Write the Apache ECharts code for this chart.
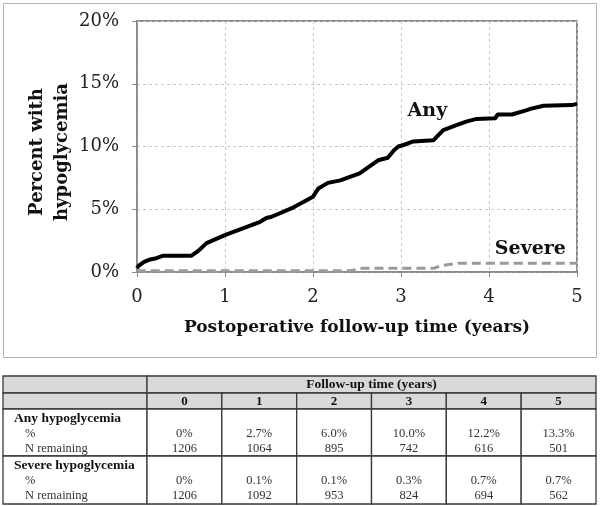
<!DOCTYPE html>
<html>
<head>
<meta charset="utf-8">
<script src="https://cdn.jsdelivr.net/npm/echarts@6/dist/echarts.min.js"></script>
<style>
html,body{margin:0;padding:0;background:#fff;}
#chart{width:600px;height:506px;}
</style>
</head>
<body>
<div id="chart"></div>
<script>
// ---- Curve data ----
const anyTime = [0, 0.02, 0.08, 0.15, 0.22, 0.3, 0.62, 0.7, 0.79, 0.92, 1.02, 1.21, 1.4, 1.47, 1.53, 1.78, 2.0, 2.06, 2.17, 2.31, 2.53, 2.61, 2.74, 2.85, 2.92, 2.97, 3.02, 3.14, 3.37, 3.48, 3.63, 3.75, 3.86, 4.07, 4.1, 4.26, 4.28, 4.43, 4.47, 4.62, 4.94, 5.0];
const anyPctCurve = [0.3, 0.5, 0.8, 1.0, 1.1, 1.3, 1.3, 1.7, 2.3, 2.7, 3.0, 3.5, 4.0, 4.3, 4.4, 5.15, 6.0, 6.65, 7.1, 7.3, 7.85, 8.25, 8.9, 9.1, 9.7, 10.0, 10.1, 10.4, 10.5, 11.3, 11.7, 12.0, 12.2, 12.25, 12.55, 12.55, 12.7, 12.9, 13.0, 13.25, 13.3, 13.4];
const sevTime = [0, 0.03, 2.42, 2.5, 2.56, 3.38, 3.45, 3.55, 3.65, 5.0];
const sevPctCurve = [0, 0.1, 0.1, 0.2, 0.3, 0.3, 0.5, 0.6, 0.7, 0.7];

// ---- Axis ticks ----
const xTicks = [0, 1, 2, 3, 4, 5];
const yTicks = [0, 5, 10, 15, 20];

// ---- Curve labels (anchors in data units) ----
const curveLabels = ['Any', 'Severe'];
const curveLabelAnchors = [[3.3, 12.8], [4.47, 1.8]];

// ---- Table data ----
const tableYears = [0, 1, 2, 3, 4, 5];
const anyPctTable = ['0%', '2.7%', '6.0%', '10.0%', '12.2%', '13.3%'];
const anyNTable = [1206, 1064, 895, 742, 616, 501];
const sevPctTable = ['0%', '0.1%', '0.1%', '0.3%', '0.7%', '0.7%'];
const sevNTable = [1206, 1092, 953, 824, 694, 562];
const tableTitle = 'Follow-up time (years)';
const rowTitles = ['Any hypoglycemia', 'Severe hypoglycemia'];
const subLabels = ['%', 'N remaining'];

const chartFont = 'DejaVu Serif';
const tableFont = 'Liberation Serif';

const chart = echarts.init(document.getElementById('chart'), null, {renderer: 'canvas'});

// ---- Build table graphics ----
const tbl = {left: 3, right: 596, firstColRight: 147, rows: [376, 393, 409, 456, 504]};
const colW = (tbl.right - tbl.firstColRight) / tableYears.length;
const gfx = [];
const gray = '#d9d9d9';
const stroke = '#3a3a3a';
function rect(x, y, w, h, fill) {
  gfx.push({type: 'rect', shape: {x: x, y: y, width: w, height: h},
    style: {fill: fill, stroke: stroke, lineWidth: 1.3}, silent: true});
}
function text(t, x, y, opts) {
  gfx.push({type: 'text', x: x, y: y, silent: true,
    style: Object.assign({text: t, fontFamily: tableFont, fontSize: 12.5, fill: '#111',
      textAlign: 'center', textVerticalAlign: 'middle'}, opts || {})});
}
// chart outer frame
gfx.push({type: 'rect', shape: {x: 3.5, y: 3.5, width: 593, height: 354},
  style: {fill: 'none', stroke: '#b5b5b5', lineWidth: 1}, silent: true, z: -1});
// header rows
const r = tbl.rows;
rect(tbl.left, r[0], tbl.firstColRight - tbl.left, r[1] - r[0], gray);
rect(tbl.firstColRight, r[0], tbl.right - tbl.firstColRight, r[1] - r[0], gray);
text(tableTitle, (tbl.firstColRight + tbl.right) / 2, (r[0] + r[1]) / 2 + 0.5, {fontWeight: 'bold', fontSize: 13.5});
rect(tbl.left, r[1], tbl.firstColRight - tbl.left, r[2] - r[1], gray);
tableYears.forEach(function (yr, i) {
  const x = tbl.firstColRight + i * colW;
  rect(x, r[1], colW, r[2] - r[1], gray);
  text(String(yr), x + colW / 2, (r[1] + r[2]) / 2 + 0.5, {fontWeight: 'bold', fontSize: 13});
});
// body rows
const bodyPct = [anyPctTable, sevPctTable];
const bodyN = [anyNTable, sevNTable];
[0, 1].forEach(function (k) {
  const top = r[2 + k], bot = r[3 + k];
  const h = bot - top;
  rect(tbl.left, top, tbl.firstColRight - tbl.left, h, '#fff');
  const yTitle = top + 9.5, yPct = top + 25, yN = top + 40;
  text(rowTitles[k], 14, yTitle, {fontWeight: 'bold', fontSize: 13.5, textAlign: 'left'});
  text(subLabels[0], 25, yPct, {textAlign: 'left', fill: '#333'});
  text(subLabels[1], 25, yN, {textAlign: 'left', fill: '#333'});
  tableYears.forEach(function (yr, i) {
    const x = tbl.firstColRight + i * colW;
    rect(x, top, colW, h, '#fff');
    text(bodyPct[k][i], x + colW / 2, yPct, {fill: '#333'});
    text(String(bodyN[k][i]), x + colW / 2, yN, {fill: '#333'});
  });
});
// y-axis title
gfx.push({type: 'text', x: 50, y: 152, rotation: Math.PI / 2, silent: true,
  style: {text: 'Percent with\nhypoglycemia', fontFamily: chartFont, fontWeight: 'bold', fontSize: 18,
    lineHeight: 25, fill: '#111', textAlign: 'center', textVerticalAlign: 'middle'}});

const labelStyle = {show: true, position: 'inside', fontFamily: chartFont, fontWeight: 'bold',
  fontSize: 19, color: '#111'};

const option = {
  animation: false,
  backgroundColor: '#fff',
  grid: {left: 137, right: 23, top: 21, bottom: 234, show: true, borderColor: '#666', borderWidth: 1.5},
  xAxis: {
    type: 'value', min: xTicks[0], max: xTicks[xTicks.length - 1], interval: 1,
    name: 'Postoperative follow-up time (years)', nameLocation: 'middle', nameGap: 47,
    nameTextStyle: {fontFamily: chartFont, fontWeight: 'bold', fontSize: 17, color: '#111'},
    axisLine: {show: true, lineStyle: {color: '#8a8a8a', width: 1.5}},
    axisTick: {show: true, length: 5, lineStyle: {color: '#8a8a8a'}},
    axisLabel: {fontFamily: chartFont, fontSize: 18, color: '#222', margin: 16},
    splitLine: {show: true, lineStyle: {color: '#c8c8c8', type: [3, 3], width: 1}}
  },
  yAxis: {
    type: 'value', min: yTicks[0], max: yTicks[yTicks.length - 1], interval: 5,
    axisLine: {show: true, lineStyle: {color: '#8a8a8a', width: 1.5}},
    axisTick: {show: true, length: 5, lineStyle: {color: '#8a8a8a'}},
    axisLabel: {fontFamily: chartFont, fontSize: 18, color: '#222', margin: 18, formatter: '{value}%'},
    splitLine: {show: true, lineStyle: {color: '#c8c8c8', type: [3, 3], width: 1}}
  },
  series: [
    {
      type: 'line', name: 'Severe', showSymbol: false, symbol: 'none', z: 3,
      data: sevTime.map(function (t, i) { return [t, sevPctCurve[i]]; }),
      lineStyle: {color: '#9a9a9a', width: 3, type: [9, 5]},
      markPoint: {symbol: 'circle', symbolSize: 1, itemStyle: {color: 'rgba(0,0,0,0)'},
        data: [{coord: curveLabelAnchors[1], label: Object.assign({}, labelStyle, {formatter: curveLabels[1]})}]}
    },
    {
      type: 'line', name: 'Any', showSymbol: false, symbol: 'none', z: 4,
      data: anyTime.map(function (t, i) { return [t, anyPctCurve[i]]; }),
      lineStyle: {color: '#000', width: 4, join: 'round'},
      markPoint: {symbol: 'circle', symbolSize: 1, itemStyle: {color: 'rgba(0,0,0,0)'},
        data: [{coord: curveLabelAnchors[0], label: Object.assign({}, labelStyle, {formatter: curveLabels[0]})}]}
    }
  ],
  graphic: gfx
};
chart.setOption(option);
</script>
</body>
</html>
